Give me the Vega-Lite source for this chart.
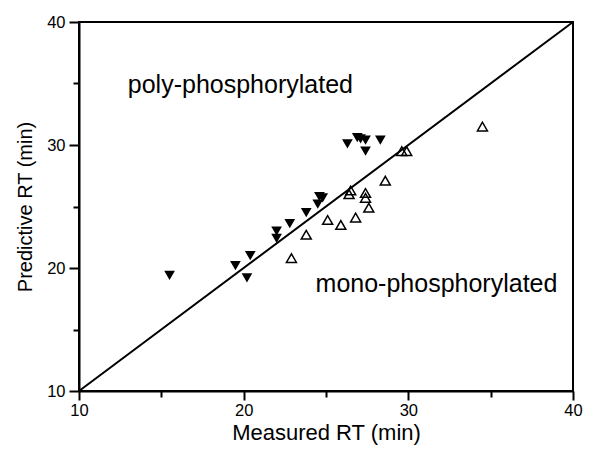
{
  "$schema": "https://vega.github.io/schema/vega-lite/v6.json",
  "width": 494,
  "height": 369,
  "autosize": {"type": "none"},
  "padding": {"left": 79, "top": 22, "right": 16, "bottom": 58},
  "background": "white",
  "config": {
    "view": {"stroke": "black", "strokeWidth": 2},
    "font": "Liberation Sans",
    "axis": {
      "domainColor": "black", "domainWidth": 2, "tickColor": "black", "tickWidth": 2,
      "labelColor": "black", "labelFontSize": 16.5, "titleColor": "black",
      "titleFontWeight": "normal", "grid": false, "labelFont": "Liberation Sans", "titleFont": "Liberation Sans"
    }
  },
  "datasets": {
    "pts": [
      {"measured": 15.5, "predicted": 19.4, "group": "poly"},
      {"measured": 19.5, "predicted": 20.2, "group": "poly"},
      {"measured": 20.4, "predicted": 21.0, "group": "poly"},
      {"measured": 20.2, "predicted": 19.2, "group": "poly"},
      {"measured": 22.0, "predicted": 23.0, "group": "poly"},
      {"measured": 22.0, "predicted": 22.4, "group": "poly"},
      {"measured": 22.8, "predicted": 23.6, "group": "poly"},
      {"measured": 23.8, "predicted": 24.5, "group": "poly"},
      {"measured": 24.5, "predicted": 25.2, "group": "poly"},
      {"measured": 24.8, "predicted": 25.7, "group": "poly"},
      {"measured": 24.6, "predicted": 25.8, "group": "poly"},
      {"measured": 26.3, "predicted": 30.1, "group": "poly"},
      {"measured": 26.9, "predicted": 30.6, "group": "poly"},
      {"measured": 27.1, "predicted": 30.5, "group": "poly"},
      {"measured": 27.4, "predicted": 30.4, "group": "poly"},
      {"measured": 27.4, "predicted": 29.5, "group": "poly"},
      {"measured": 28.3, "predicted": 30.4, "group": "poly"},
      {"measured": 22.9, "predicted": 20.8, "group": "mono"},
      {"measured": 23.8, "predicted": 22.7, "group": "mono"},
      {"measured": 25.1, "predicted": 23.9, "group": "mono"},
      {"measured": 25.9, "predicted": 23.5, "group": "mono"},
      {"measured": 26.4, "predicted": 26.0, "group": "mono"},
      {"measured": 26.5, "predicted": 26.3, "group": "mono"},
      {"measured": 26.8, "predicted": 24.1, "group": "mono"},
      {"measured": 27.4, "predicted": 26.1, "group": "mono"},
      {"measured": 27.4, "predicted": 25.7, "group": "mono"},
      {"measured": 27.6, "predicted": 24.9, "group": "mono"},
      {"measured": 28.6, "predicted": 27.1, "group": "mono"},
      {"measured": 29.6, "predicted": 29.5, "group": "mono"},
      {"measured": 29.9, "predicted": 29.5, "group": "mono"},
      {"measured": 34.5, "predicted": 31.5, "group": "mono"}
    ],
    "diag": [{"x": 10, "y": 10, "x2": 40, "y2": 40}],
    "labels": [
      {"x": 19.8, "y": 34.25, "text": "poly-phosphorylated"},
      {"x": 31.71, "y": 18.07, "text": "mono-phosphorylated"}
    ]
  },
  "layer": [
    {
      "data": {"name": "diag"},
      "mark": {"type": "rule", "color": "black", "strokeWidth": 2},
      "encoding": {
        "x": {"field": "x", "type": "quantitative", "scale": {"domain": [10, 40], "nice": false, "zero": false},
          "title": "Measured RT (min)",
          "axis": {"values": [10, 15, 20, 25, 30, 35, 40], "labelExpr": "datum.value % 10 === 0 ? datum.label : ''",
            "tickSize": {"condition": {"test": "datum.value % 10 === 0", "value": 9}, "value": 6},
            "labelPadding": 2, "titlePadding": 4, "titleFontSize": 22, "labelFlush": false}},
        "y": {"field": "y", "type": "quantitative", "scale": {"domain": [10, 40], "nice": false, "zero": false},
          "title": "Predictive RT (min)",
          "axis": {"values": [10, 15, 20, 25, 30, 35, 40], "labelExpr": "datum.value % 10 === 0 ? datum.label : ''",
            "tickSize": {"condition": {"test": "datum.value % 10 === 0", "value": 10}, "value": 6},
            "labelPadding": 4, "titlePadding": 11, "titleFontSize": 20, "labelFlush": false}},
        "x2": {"field": "x2"},
        "y2": {"field": "y2"}
      }
    },
    {
      "data": {"name": "pts"},
      "transform": [{"filter": "datum.group === 'poly'"}],
      "mark": {"type": "point", "shape": "triangle-down", "filled": true, "color": "black", "size": 115, "opacity": 1},
      "encoding": {
        "x": {"field": "measured", "type": "quantitative"},
        "y": {"field": "predicted", "type": "quantitative"}
      }
    },
    {
      "data": {"name": "pts"},
      "transform": [{"filter": "datum.group === 'mono'"}],
      "mark": {"type": "point", "shape": "triangle-up", "filled": false, "color": "black", "strokeWidth": 1.5, "size": 100, "opacity": 1},
      "encoding": {
        "x": {"field": "measured", "type": "quantitative"},
        "y": {"field": "predicted", "type": "quantitative"}
      }
    },
    {
      "data": {"name": "labels"},
      "mark": {"type": "text", "fontSize": 25, "font": "Liberation Sans", "color": "black", "align": "center", "baseline": "alphabetic"},
      "encoding": {
        "x": {"field": "x", "type": "quantitative"},
        "y": {"field": "y", "type": "quantitative"},
        "text": {"field": "text"}
      }
    }
  ]
}
